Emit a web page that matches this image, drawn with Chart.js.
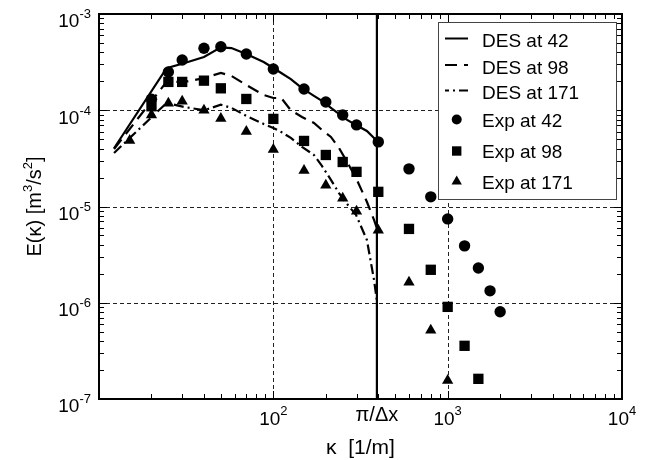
<!DOCTYPE html>
<html><head><meta charset="utf-8">
<script src="https://cdn.jsdelivr.net/npm/chart.js@4.4.1/dist/chart.umd.min.js"></script>
<style>html,body{margin:0;padding:0;background:#fff}#wrap{width:648px;height:460px}</style>
</head><body><div id="wrap"><canvas id="c" width="648" height="460"></canvas></div>
<script>
// ---- data ----
const desK   = [12.2, 24.4, 31, 40, 50, 57.5, 70, 88, 100, 111, 126, 146, 171, 190, 214, 238, 265, 298, 344, 378, 392];
const des42  = [4.03e-5, 2.73e-4, 3.1e-4, 3.58e-4, 4.5e-4, 4.43e-4, 3.84e-4, 3.17e-4, 2.75e-4, 2.44e-4, 2.11e-4, 1.7e-4, 1.41e-4, 1.25e-4, 1.06e-4, 9.16e-5, 7.94e-5, 7.04e-5, 6.1e-5, 5.16e-5, 4.8e-5];
const des98  = [3.96e-5, 1.97e-4, 1.97e-4, 2.16e-4, 2.44e-4, 2.27e-4, 1.83e-4, 1.44e-4, 1.34e-4, 1.34e-4, 1.0e-4, 8.51e-5, 7.38e-5, 6.24e-5, 5.28e-5, 4.06e-5, 2.9e-5, 1.98e-5, 1.12e-5, 7.26e-6, 6.0e-6];
const des171 = [3.6e-5, 1.19e-4, 1.08e-4, 1.0e-4, 1.14e-4, 1.06e-4, 8.73e-5, 7.21e-5, 6.55e-5, 5.95e-5, 5.16e-5, 4.16e-5, 3.43e-5, 2.64e-5, 1.89e-5, 1.38e-5, 1.06e-5, 8.18e-6, 4.5e-6, 1.73e-6, 1.07e-6];

const exp42K = [20, 25, 30, 40, 50, 70, 100, 150, 200, 250, 300, 400, 600, 800, 1000, 1250, 1500, 1750, 2000];
const exp42E = [1.3e-4, 2.5e-4, 3.33e-4, 4.4e-4, 4.57e-4, 3.84e-4, 2.68e-4, 1.66e-4, 1.22e-4, 8.93e-5, 7.04e-5, 4.69e-5, 2.46e-5, 1.26e-5, 7.43e-6, 3.9e-6, 2.3e-6, 1.33e-6, 8.05e-7];
const exp98K = [20, 25, 30, 40, 50, 70, 100, 150, 200, 250, 300, 400, 600, 800, 1000, 1250, 1500];
const exp98E = [1.1e-4, 1.97e-4, 1.97e-4, 2.03e-4, 1.69e-4, 1.31e-4, 8.13e-5, 4.8e-5, 3.43e-5, 2.9e-5, 2.29e-5, 1.42e-5, 5.85e-6, 2.2e-6, 9.06e-7, 3.57e-7, 1.62e-7];
const exp171K = [15, 20, 25, 30, 40, 50, 70, 100, 150, 200, 250, 300, 400, 600, 800, 1000];
const exp171E = [4.85e-5, 8.9e-5, 1.18e-4, 1.24e-4, 1.0e-4, 8.2e-5, 6.0e-5, 3.92e-5, 2.37e-5, 1.66e-5, 1.22e-5, 8.9e-6, 5.65e-6, 1.63e-6, 5.17e-7, 1.56e-7];

const piOverDx = 392.7;
const xTickValues = [100, piOverDx, 1000, 10000];
const xTickLabels = [['10','2'], ['\u03C0/\u0394x',''], ['10','3'], ['10','4']];
const yTickValues = [1e-3, 1e-4, 1e-5, 1e-6, 1e-7];
const yTickLabels = [['10','-3'], ['10','-4'], ['10','-5'], ['10','-6'], ['10','-7']];
const seriesNames = ['DES at 42', 'DES at 98', 'DES at 171', 'Exp at 42', 'Exp at 98', 'Exp at 171'];
const xTitle = '\u03BA  [1/m]';

const zip = (xs, ys) => xs.map((v, i) => ({x: v, y: ys[i]}));
const FONT = '"Liberation Sans", Arial, Helvetica, sans-serif';

const datasets = [
  {label: seriesNames[0], data: zip(desK, des42), showLine: true, borderColor: '#000', borderWidth: 2.2, pointRadius: 0, fill: false},
  {label: seriesNames[1], data: zip(desK, des98), showLine: true, borderColor: '#000', borderWidth: 2.2, borderDash: [12, 7], pointRadius: 0, fill: false},
  {label: seriesNames[2], data: zip(desK, des171), showLine: true, borderColor: '#000', borderWidth: 2.2, borderDash: [10, 4, 2, 4], pointRadius: 0, fill: false},
  {label: seriesNames[3], data: zip(exp42K, exp42E), showLine: false, pointStyle: 'circle', pointRadius: 5.7, pointBackgroundColor: '#000', pointBorderWidth: 0},
  {label: seriesNames[4], data: zip(exp98K, exp98E), showLine: false, pointStyle: 'rect', pointRadius: 7.3, pointBackgroundColor: '#000', pointBorderWidth: 0},
  {label: seriesNames[5], data: zip(exp171K, exp171E), showLine: false, pointStyle: 'triangle', pointRadius: 6.5, pointBackgroundColor: '#000', pointBorderWidth: 0},
  {label: 'cutoff', data: [{x: piOverDx, y: 1e-7}, {x: piOverDx, y: 1e-3}], showLine: true, borderColor: '#000', borderWidth: 2.2, pointRadius: 0}
];

function seg(ctx, x1, y1, x2, y2) { ctx.beginPath(); ctx.moveTo(x1, y1); ctx.lineTo(x2, y2); ctx.stroke(); }

function supText(ctx, base, exp, x, baseY, align, bSize, eSize, rise) {
  ctx.font = bSize + 'px ' + FONT; const wb = ctx.measureText(base).width;
  ctx.font = eSize + 'px ' + FONT; const we = exp ? ctx.measureText(exp).width : 0;
  const total = wb + we;
  let x0 = align === 'center' ? x - total / 2 : (align === 'right' ? x - total : x);
  ctx.textAlign = 'left'; ctx.textBaseline = 'alphabetic';
  ctx.font = bSize + 'px ' + FONT; ctx.fillText(base, x0, baseY);
  if (exp) { ctx.font = eSize + 'px ' + FONT; ctx.fillText(exp, x0 + wb, baseY - rise); }
}

const deco = {
  id: 'deco',
  beforeDatasetsDraw(chart) {
    const {ctx, chartArea: a, scales: {x, y}} = chart;
    ctx.save();
    ctx.strokeStyle = '#222'; ctx.lineWidth = 1; ctx.setLineDash([4, 3]);
    [100, 1000].forEach(v => { const p = Math.round(x.getPixelForValue(v)) + 0.5; seg(ctx, p, a.top, p, a.bottom); });
    [1e-4, 1e-5, 1e-6].forEach(v => { const p = Math.round(y.getPixelForValue(v)) + 0.5; seg(ctx, a.left, p, a.right, p); });
    ctx.restore();
  },
  afterDatasetsDraw(chart) {
    const {ctx, chartArea: a, scales: {x, y}} = chart;
    ctx.save();
    ctx.strokeStyle = '#000'; ctx.lineWidth = 1; ctx.setLineDash([]);
    [10, 100, 1000].forEach(d => {
      for (let m = 1; m <= 9; m++) {
        const v = m * d; if (v <= 10 || v >= 10000) continue;
        const p = Math.round(x.getPixelForValue(v)) + 0.5; const L = m === 1 ? 8 : 5;
        seg(ctx, p, a.bottom, p, a.bottom - L); seg(ctx, p, a.top, p, a.top + L);
      }
    });
    [1e-7, 1e-6, 1e-5, 1e-4].forEach(d => {
      for (let m = 1; m <= 9; m++) {
        const v = m * d; if (m === 1 && d === 1e-7) continue;
        const p = Math.round(y.getPixelForValue(v)) + 0.5; const L = m === 1 ? 8 : 5;
        seg(ctx, a.left, p, a.left + L, p); seg(ctx, a.right, p, a.right - L, p);
      }
    });
    ctx.lineWidth = 2;
    ctx.strokeRect(a.left, a.top, a.right - a.left, a.bottom - a.top);
    ctx.fillStyle = '#000';
    yTickValues.forEach((v, i) => {
      const p = y.getPixelForValue(v);
      supText(ctx, yTickLabels[i][0], yTickLabels[i][1], a.left - 8, p + 13.3, 'right', 19, 13, 9);
    });
    xTickValues.forEach((v, i) => {
      const p = x.getPixelForValue(v);
      if (xTickLabels[i][1]) supText(ctx, xTickLabels[i][0], xTickLabels[i][1], p, a.bottom + 26, 'center', 19, 13, 10);
      else supText(ctx, xTickLabels[i][0], '', p, a.bottom + 21.5, 'center', 20, 13, 0);
    });
    ctx.font = '21px ' + FONT; ctx.textAlign = 'center'; ctx.textBaseline = 'alphabetic';
    ctx.fillText(xTitle, (a.left + a.right) / 2, 454);
    ctx.save();
    ctx.translate(41, (a.top + a.bottom) / 2); ctx.rotate(-Math.PI / 2);
    const parts = [['E(\u03BA) [m', 0], ['3', 1], ['/s', 0], ['2', 1], [']', 0]];
    let tot = 0;
    parts.forEach(pt => { ctx.font = (pt[1] ? 13 : 20) + 'px ' + FONT; tot += ctx.measureText(pt[0]).width; });
    let cx = -tot / 2; ctx.textAlign = 'left';
    parts.forEach(pt => { ctx.font = (pt[1] ? 13 : 20) + 'px ' + FONT; ctx.fillText(pt[0], cx, pt[1] ? -9 : 0); cx += ctx.measureText(pt[0]).width; });
    ctx.restore();
    const bx = 438.5, by = 22.5, bw = 178, bh = 177;
    ctx.fillStyle = '#fff'; ctx.fillRect(bx, by, bw, bh);
    ctx.strokeStyle = '#444'; ctx.lineWidth = 1; ctx.strokeRect(bx, by, bw, bh);
    const rowY = [40, 66.5, 92, 119.5, 151, 181.5];
    ctx.font = '19px ' + FONT; ctx.textAlign = 'left'; ctx.textBaseline = 'alphabetic';
    seriesNames.forEach((name, i) => {
      const ds = chart.data.datasets[i]; const yy = rowY[i];
      ctx.strokeStyle = '#000'; ctx.fillStyle = '#000';
      if (i < 3) {
        ctx.lineWidth = 2; ctx.setLineDash(ds.borderDash || []);
        ctx.lineDashOffset = i === 2 ? 6 : 0;
        seg(ctx, 445, yy - 1.5, 468, yy - 1.5); ctx.setLineDash([]); ctx.lineDashOffset = 0;
      } else {
        const mx = 456.7;
        ctx.beginPath();
        if (ds.pointStyle === 'circle') ctx.arc(mx, yy, 5, 0, Math.PI * 2);
        else if (ds.pointStyle === 'rect') ctx.rect(mx - 4.7, yy - 4.7, 9.4, 9.4);
        else { const r = 6; ctx.moveTo(mx, yy - r); ctx.lineTo(mx + r * 0.866, yy + r / 2); ctx.lineTo(mx - r * 0.866, yy + r / 2); ctx.closePath(); }
        ctx.fill();
      }
      ctx.font = '19px ' + FONT; ctx.fillText(name, 482, yy + 7);
    });
    ctx.restore();
  }
};

new Chart(document.getElementById('c'), {
  type: 'scatter',
  data: {datasets},
  options: {
    responsive: false, animation: false, devicePixelRatio: 1,
    layout: {padding: {left: 99, right: 26, top: 14, bottom: 61}},
    plugins: {legend: {display: false}, tooltip: {enabled: false}},
    elements: {line: {tension: 0}},
    scales: {
      x: {type: 'logarithmic', min: 10, max: 10000, display: false},
      y: {type: 'logarithmic', min: 1e-7, max: 1e-3, display: false}
    }
  },
  plugins: [deco]
});
</script></body></html>
